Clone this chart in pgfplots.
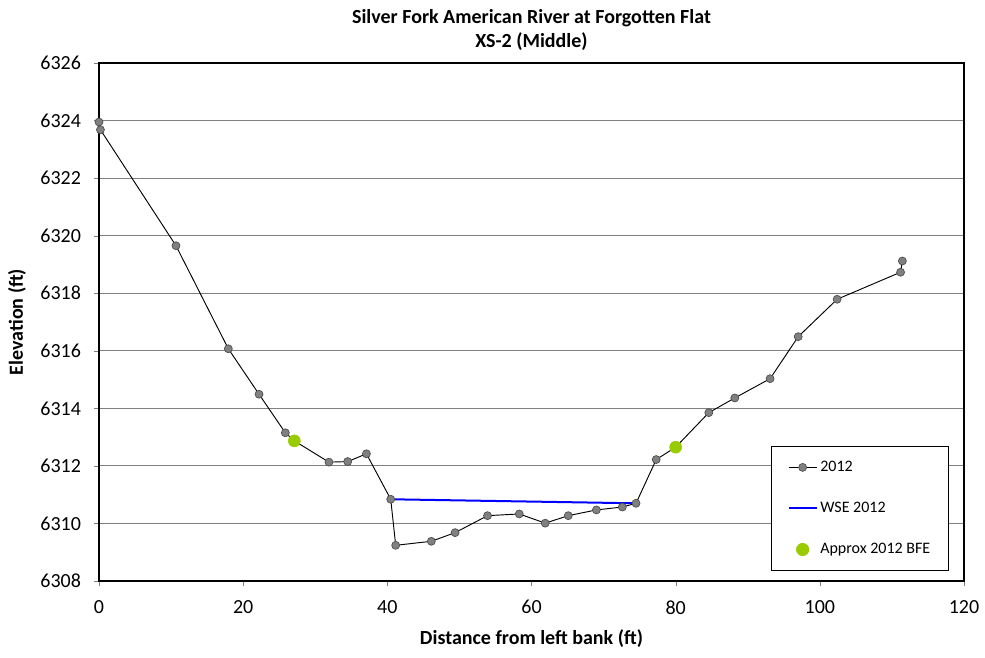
\documentclass[border=0pt]{standalone}
\usepackage{pgfplots}
\pgfplotsset{compat=1.18}
\usepackage{fontspec}
\setmainfont{Carlito}
\definecolor{bfe}{RGB}{153,204,0}
\definecolor{mgray}{RGB}{128,128,128}
\begin{document}
\begin{tikzpicture}
\begin{axis}[
  at={(0,0)}, anchor=south west,
  scale only axis,
  width=648.75pt, height=388.5pt,
  xmin=0, xmax=120, ymin=6308, ymax=6326,
  xtick={0,20,...,120}, ytick={6308,6310,...,6326},
  /pgf/number format/assume math mode=true,
  /pgf/number format/1000 sep={},
  tick label style={font=\fontsize{15}{17}\selectfont},
  tick align=outside, tick pos=left,
  major tick length=4pt,
  ymajorgrids, grid style={mgray, line width=0.8pt},
  axis line style={black, line width=0.8pt},
  xticklabel style={yshift=-7pt},
  yticklabel style={xshift=-6pt},
  title style={font=\bfseries\fontsize{15}{17.5}\selectfont, align=center, yshift=0pt},
  title={Silver Fork American River at Forgotten Flat\\XS-2 (Middle)},
  xlabel={Distance from left bank (ft)},
  ylabel={Elevation (ft)},
  label style={font=\bfseries\fontsize{15}{17}\selectfont},
  xlabel style={yshift=-5pt},
  ylabel style={yshift=4pt},
  legend style={at={(0.777,0.2606)}, anchor=north west, draw=black, line width=0.8pt,
    font=\fontsize{12}{14}\selectfont, row sep=17.5pt, inner xsep=12pt, inner ysep=9pt,
    cells={anchor=west}},
  legend cell align=left,
  clip=false,
]
\addplot[black, line width=0.7pt, mark=*, mark size=3pt,
  mark options={fill=mgray, draw=black!70, line width=0.5pt},
  legend image code/.code={\draw[mark repeat=2,mark phase=2] plot coordinates {(0pt,0pt) (10.5pt,0pt) (21pt,0pt)};}] coordinates {
(0,6323.95) (0.2,6323.68) (10.68,6319.65) (17.94,6316.07) (22.2,6314.49)
(25.85,6313.15) (27.1,6312.87) (31.9,6312.13) (34.5,6312.15) (37.1,6312.42)
(40.47,6310.84) (41.16,6309.24) (46.1,6309.38) (49.4,6309.68) (53.9,6310.27)
(58.3,6310.33) (61.9,6310.01) (65.1,6310.27) (69.0,6310.47) (72.6,6310.57)
(74.5,6310.70) (77.3,6312.22) (80.0,6312.65) (84.6,6313.85) (88.2,6314.36)
(93.1,6315.03) (97.0,6316.49) (102.4,6317.79) (111.2,6318.73) (111.45,6319.12)
};
\addlegendentry{2012}
\addplot[blue, line width=1.5pt,
  legend image code/.code={\draw plot coordinates {(0pt,0pt) (21pt,0pt)};}] coordinates {(40.47,6310.84) (74.5,6310.70)};
\addlegendentry{WSE 2012}
\addplot[only marks, mark=*, mark size=4.5pt, mark options={fill=bfe, draw=bfe},
  legend image code/.code={\draw plot coordinates {(10.5pt,0pt)};}] coordinates {
(27.1,6312.87) (80.0,6312.65)};
\addlegendentry{Approx 2012 BFE}
\end{axis}
\pgfresetboundingbox
\path[use as bounding box] (-74.25pt,-57pt) rectangle (664.5pt,435.75pt);
\end{tikzpicture}
\end{document}
